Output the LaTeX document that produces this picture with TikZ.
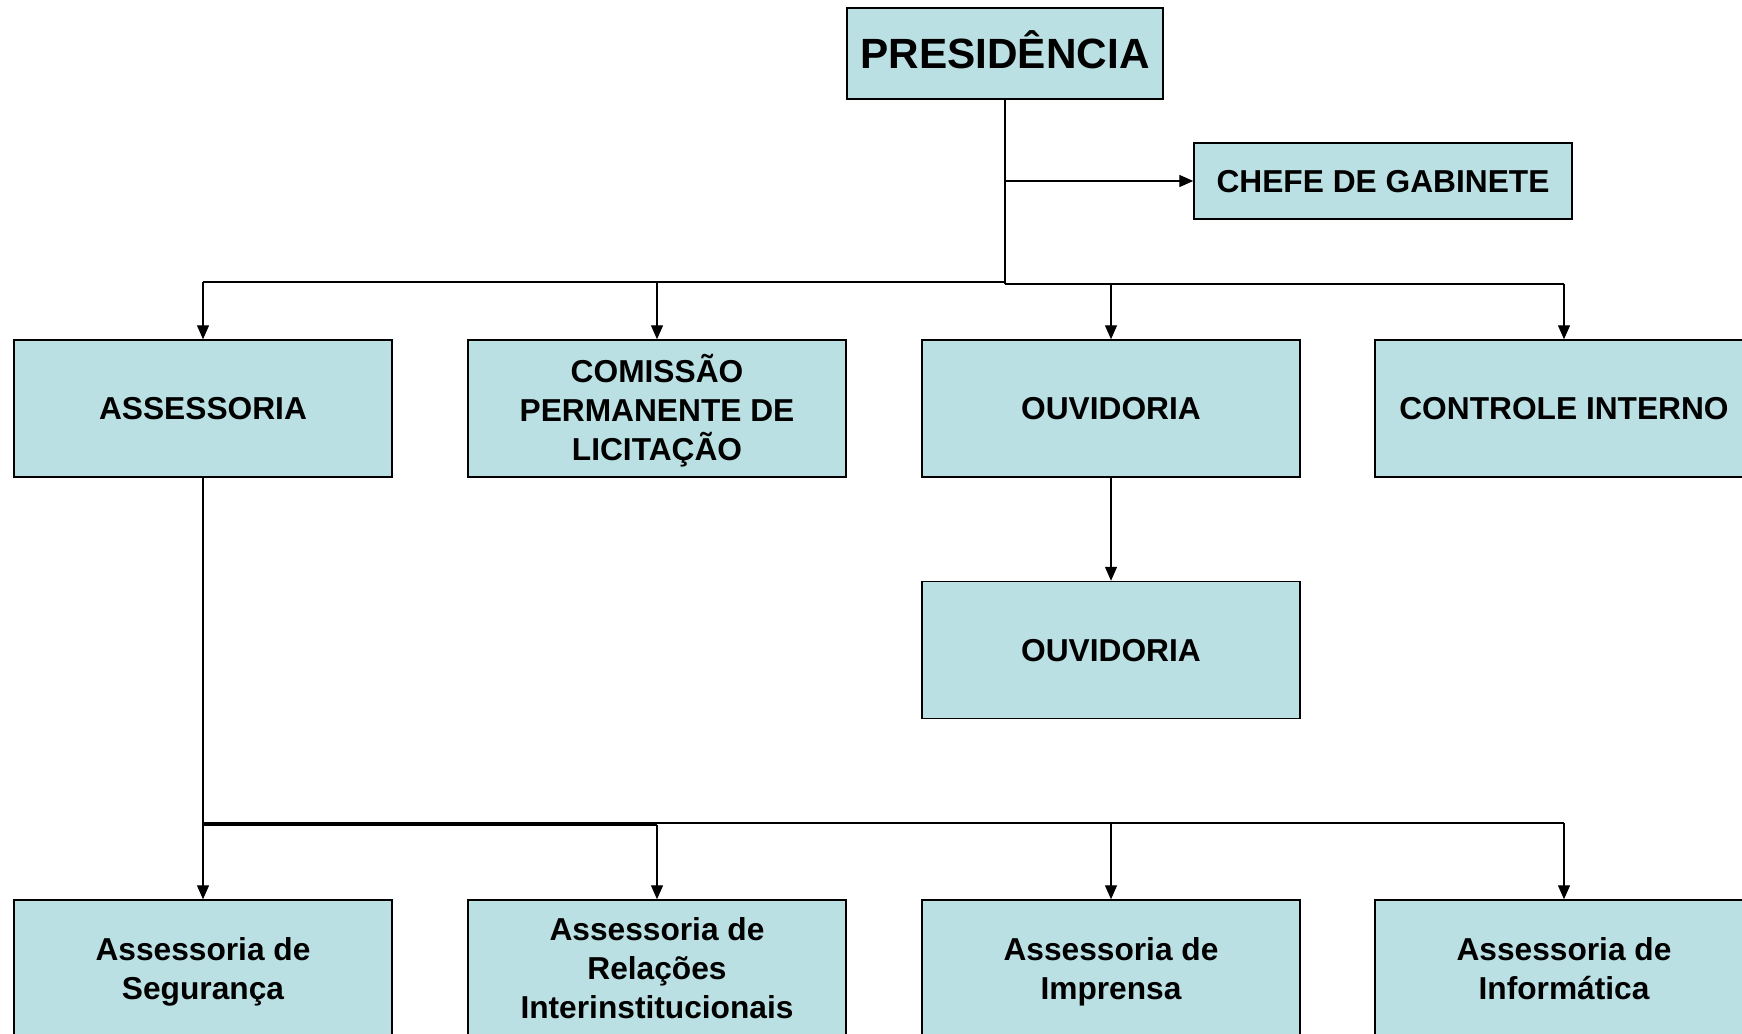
\documentclass[tikz,border=0pt]{standalone}
\usepackage{fontspec}
\setmainfont{Liberation Sans}
\usetikzlibrary{arrows.meta}
\definecolor{boxfill}{RGB}{187,224,227}
\begin{document}
\begin{tikzpicture}[x=1pt,y=-1pt,
  orgbox/.style={draw=black, line width=1.5pt, fill=boxfill, inner sep=0pt,
    minimum width=378pt, minimum height=137pt, align=center, text depth=0pt,
    font=\fontsize{31.7}{39}\selectfont\bfseries},
  conn/.style={line width=1.4pt, -{Triangle[width=12pt,length=14pt]}},
  trunk/.style={line width=2pt}]
\useasboundingbox (0,0) rectangle (1742,1033);
\clip (0,0) rectangle (1742,1033);

\node[orgbox, minimum width=316pt, minimum height=91pt, text height=30.3pt,
  font=\fontsize{42.3}{50}\selectfont\bfseries] (pres) at (1005,53.5) {PRESIDÊNCIA};
\node[orgbox, minimum height=76pt] (chefe) at (1383,181) {CHEFE DE GABINETE};

\node[orgbox] (ass) at (203,408.5) {ASSESSORIA};
\node[orgbox, text depth=3pt] (cpl) at (657,408.5) {COMISSÃO\\PERMANENTE DE\\LICITAÇÃO};
\node[orgbox] (ouv) at (1111,408.5) {OUVIDORIA};
\node[orgbox] (ci) at (1564,408.5) {CONTROLE INTERNO};

\node[orgbox] (ouv2) at (1111,650) {OUVIDORIA};

\node[orgbox] (seg) at (203,968.5) {Assessoria de\\Segurança};
\node[orgbox] (rel) at (657,968.5) {Assessoria de\\Relações\\Interinstitucionais};
\node[orgbox] (imp) at (1111,968.5) {Assessoria de\\Imprensa};
\node[orgbox] (inf) at (1564,968.5) {Assessoria de\\Informática};

\coordinate (busL) at (1005,282);
\coordinate (busR) at (1005,284);
\coordinate (busB) at (203,823);
\coordinate (busB2) at (203,825);

\draw[trunk] (pres.south) -- (busR);
\draw[conn] (pres.south |- chefe.west) -- (chefe.west);

\draw[trunk] (busL) -- (busL -| ass.north);
\draw[trunk] (busR) -- (busR -| ci.north);
\draw[conn] (busL -| ass.north) -- (ass.north);
\draw[conn] (busL -| cpl.north) -- (cpl.north);
\draw[conn] (busR -| ouv.north) -- (ouv.north);
\draw[conn] (busR -| ci.north) -- (ci.north);

\draw[conn] (ouv.south) -- (ouv2.north);

\draw[line width=2.5pt] (ass.south) -- (busB2);
\draw[trunk] (busB) -- (busB -| inf.north);
\draw[trunk] (busB2) -- (busB2 -| rel.north);
\draw[conn] (busB -| seg.north) -- (seg.north);
\draw[conn] (busB2 -| rel.north) -- (rel.north);
\draw[conn] (busB -| imp.north) -- (imp.north);
\draw[conn] (busB -| inf.north) -- (inf.north);
\end{tikzpicture}
\end{document}
